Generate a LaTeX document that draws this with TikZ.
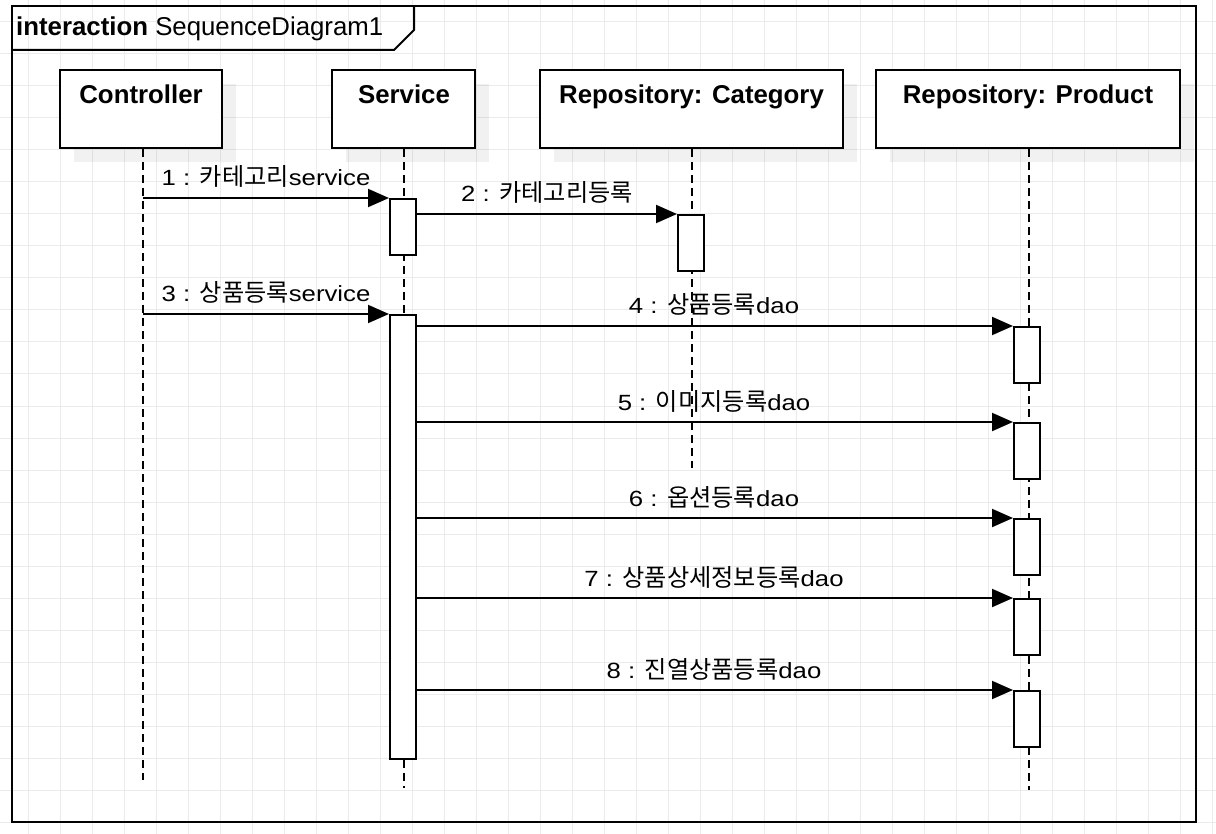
\documentclass[tikz,border=0pt]{standalone}
\usepackage{fontspec}
\setmainfont{Liberation Sans}
\newfontfamily\kr[Scale=1.1]{Noto Sans CJK KR}
\newfontfamily\lbl[FakeStretch=1.17]{Liberation Sans}
\usetikzlibrary{arrows.meta}
\definecolor{gridc}{HTML}{EBEBEB}
\begin{document}
\begin{tikzpicture}[x=1pt,y=-1pt,
  headbox/.style={draw, line width=2pt, fill=white, inner sep=0pt, minimum height=78pt},
  headtxt/.style={anchor=base, inner sep=0pt, font=\fontsize{25.8}{30}\selectfont\bfseries},
  shadowbox/.style={fill=black, opacity=0.055},
  lifeline/.style={line width=2pt, dash pattern=on 8pt off 5pt},
  actbar/.style={draw, line width=2pt, fill=white, inner sep=0pt, minimum width=26pt, minimum height=56pt, anchor=north},
  msg/.style={line width=2pt, -{Triangle[length=21pt,width=18pt]}},
  msglbl/.style={anchor=base, inner sep=0pt, font=\fontsize{22}{26}\lbl}
]
\useasboundingbox (0,0) rectangle (1216,834);
\fill[white] (0,0) rectangle (1216,834);
% grid
\foreach \i in {0,...,37} \draw[gridc, line width=1pt] (28.5+32*\i,0) -- (28.5+32*\i,834);
\foreach \j in {0,...,25} \draw[gridc, line width=1pt] (0,22+32*\j) -- (1216,22+32*\j);

% frame
\draw[line width=2pt] (12,6) rectangle (1196,822);
\draw[line width=2pt] (12,50) -- (394,50) -- (414,30) -- (414,6);
\node[anchor=base west, inner sep=0pt, font=\fontsize{25.8}{30}\selectfont] (title) at (16,36) {\textbf{interaction} SequenceDiagram1};

% shadows
\fill[shadowbox] (74,84) rectangle (236,162);
\fill[shadowbox] (346,84) rectangle (489,162);
\fill[shadowbox] (554,84) rectangle (857,162);
\fill[shadowbox] (890,84) rectangle (1194,162);

% lifeline heads
\node[headbox, minimum width=162pt] (ctrl) at (141,109) {};
\node[headbox, minimum width=143pt] (serv) at (403.5,109) {};
\node[headbox, minimum width=303pt] (rcat) at (691.5,109) {};
\node[headbox, minimum width=304pt] (rprod) at (1028,109) {};
\node[headtxt] (ctrlT) at (141,104) {Controller};
\node[headtxt] (servT) at (404,104) {Service};
\node[headtxt] (rcatT) at (691.5,104) {Repository: Category};
\node[headtxt] (rprodT) at (1028,104) {Repository: Product};

% lifelines
\coordinate (ctrlE) at (143,780);
\coordinate (servE) at (404,788);
\coordinate (rcatE) at (692,468);
\coordinate (rprodE) at (1029,790);
\draw[lifeline] (ctrl.south -| ctrlE) -- (ctrlE);
\draw[lifeline] (serv.south -| servE) -- (servE);
\draw[lifeline] (rcat.south -| rcatE) -- (rcatE);
\draw[lifeline] (rprod.south -| rprodE) -- (rprodE);

% activation bars
\node[actbar] (a1) at (403,198) {};
\node[actbar] (a2) at (691,214) {};
\node[actbar, minimum height=444pt] (a3) at (403,314) {};
\node[actbar] (p4) at (1027,326) {};
\node[actbar] (p5) at (1027,422) {};
\node[actbar] (p6) at (1027,518) {};
\node[actbar] (p7) at (1027,598) {};
\node[actbar] (p8) at (1027,690) {};

% messages
\coordinate (m1) at (143,198);
\coordinate (m3) at (143,314);
\draw[msg] (m1) -- (a1.north west);
\draw[msg] (a1.east |- a2.north) -- (a2.north west);
\draw[msg] (m3) -- (a3.north west);
\draw[msg] (a3.east |- p4.north) -- (p4.north west);
\draw[msg] (a3.east |- p5.north) -- (p5.north west);
\draw[msg] (a3.east |- p6.north) -- (p6.north west);
\draw[msg] (a3.east |- p7.north) -- (p7.north west);
\draw[msg] (a3.east |- p8.north) -- (p8.north west);

% labels
\node[msglbl] (l1) at (266,186) {1 : {\kr 카테고리}service};
\node[msglbl] (l2) at (547,202) {2 : {\kr 카테고리등록}};
\node[msglbl] (l3) at (266,302) {3 : {\kr 상품등록}service};
\node[msglbl] (l4) at (714,314) {4 : {\kr 상품등록}dao};
\node[msglbl] (l5) at (714,410) {5 : {\kr 이미지등록}dao};
\node[msglbl] (l6) at (714,506) {6 : {\kr 옵션등록}dao};
\node[msglbl] (l7) at (714,586) {7 : {\kr 상품상세정보등록}dao};
\node[msglbl] (l8) at (714,678) {8 : {\kr 진열상품등록}dao};
\end{tikzpicture}
\end{document}
